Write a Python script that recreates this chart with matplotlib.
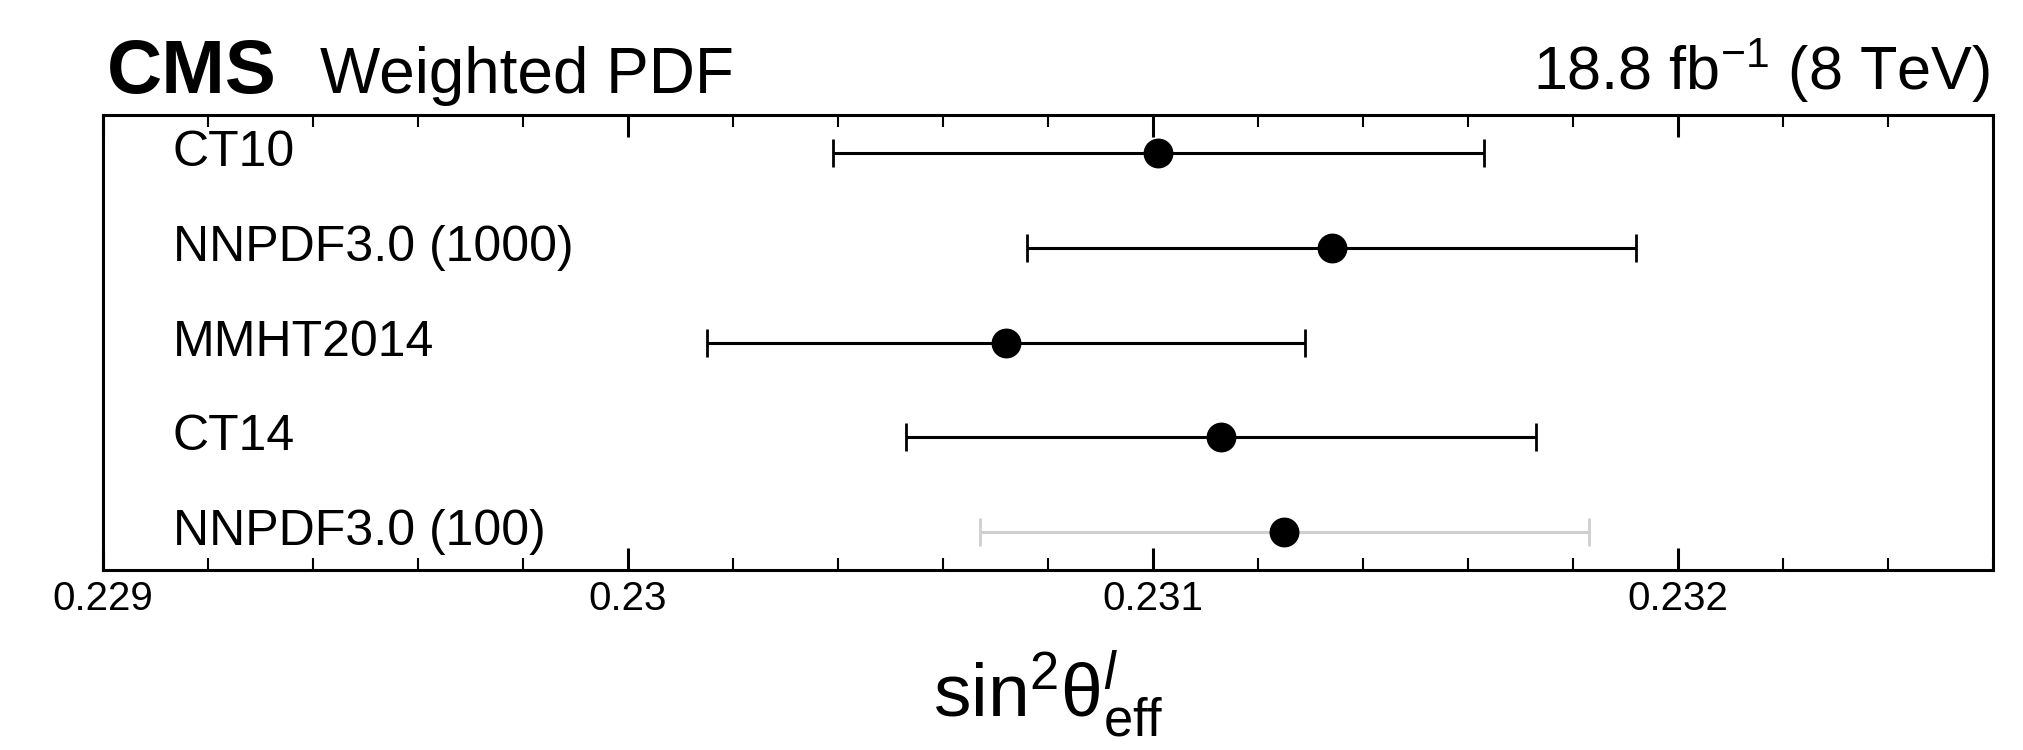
import matplotlib
matplotlib.use("Agg")
import matplotlib.pyplot as plt
from matplotlib.ticker import MultipleLocator, FixedFormatter, FixedLocator
import matplotlib.transforms as mtransforms

# ── data ──────────────────────────────────────────────────────────────────────
pdf_sets = ["CT10", "NNPDF3.0 (1000)", "MMHT2014", "CT14", "NNPDF3.0 (100)"]
sin2_eff = [0.23101, 0.23134, 0.23072, 0.23113, 0.23125]
err_lo = [0.00062, 0.00058, 0.00057, 0.00060, 0.00058]
err_hi = [0.00062, 0.00058, 0.00057, 0.00060, 0.00058]
bar_colors = ["black", "black", "black", "black", "#cfcfcf"]
xticks = [0.229, 0.230, 0.231, 0.232]
xtick_labels = ["0.229", "0.23", "0.231", "0.232"]

plt.rcParams["font.family"] = ["Liberation Sans", "DejaVu Sans"]
plt.rcParams["mathtext.fontset"] = "custom"
plt.rcParams["mathtext.rm"] = "Liberation Sans"
plt.rcParams["mathtext.it"] = "Liberation Sans:italic"

W, H = 2024, 750
fig = plt.figure(figsize=(W / 100, H / 100), dpi=100)
ax_l, ax_r, ax_t, ax_b = 103, 1993, 115, 570
ax = fig.add_axes([ax_l / W, 1 - ax_b / H, (ax_r - ax_l) / W, (ax_b - ax_t) / H])

n = len(pdf_sets)
ypos = [n - 1 - i for i in range(n)]
for i in range(n):
    _, caps, _ = ax.errorbar(
        sin2_eff[i], ypos[i], xerr=[[err_lo[i]], [err_hi[i]]],
        fmt="o", color="black", ms=20.5, ecolor=bar_colors[i],
        elinewidth=2.2, capsize=10, capthick=2.0, zorder=3,
    )
    for c in caps:
        c.set_color("black")
    ax.text(0.037, ypos[i], pdf_sets[i], fontsize=36, va="center", ha="left",
            transform=mtransforms.blended_transform_factory(ax.transAxes, ax.transData))

ax.set_xlim(0.229, 0.2326)
ax.set_ylim(-0.4, n - 1 + 0.4)
ax.set_yticks([])
ax.xaxis.set_major_locator(FixedLocator(xticks))
ax.xaxis.set_major_formatter(FixedFormatter(xtick_labels))
ax.xaxis.set_minor_locator(MultipleLocator(0.0002))
ax.tick_params(axis="x", which="both", direction="in", top=True, bottom=True,
               labelsize=29, pad=7)
ax.tick_params(axis="x", which="major", length=16, width=2.2)
ax.tick_params(axis="x", which="minor", length=8.5, width=1.5)
for s in ax.spines.values():
    s.set_linewidth(2.2)

# ── header texts ──────────────────────────────────────────────────────────────
fig.text(107 / W, 1 - 93 / H, "CMS", fontsize=55, fontweight="bold", va="baseline")
fig.text(320 / W, 1 - 93 / H, "Weighted PDF", fontsize=46, va="baseline")
fig.text(1990 / W, 1 - 90 / H, r"18.8 fb$^{\mathregular{-1}}$ (8 TeV)", fontsize=44,
         va="baseline", ha="right")
fig.text((ax_l + ax_r) / 2 / W, 1 - 717 / H,
         r"$\mathrm{sin}^{2}\mathrm{\theta}^{l}_{\mathrm{eff}}$", fontsize=54,
         va="baseline", ha="center")

fig.savefig("out.png", dpi=100)
